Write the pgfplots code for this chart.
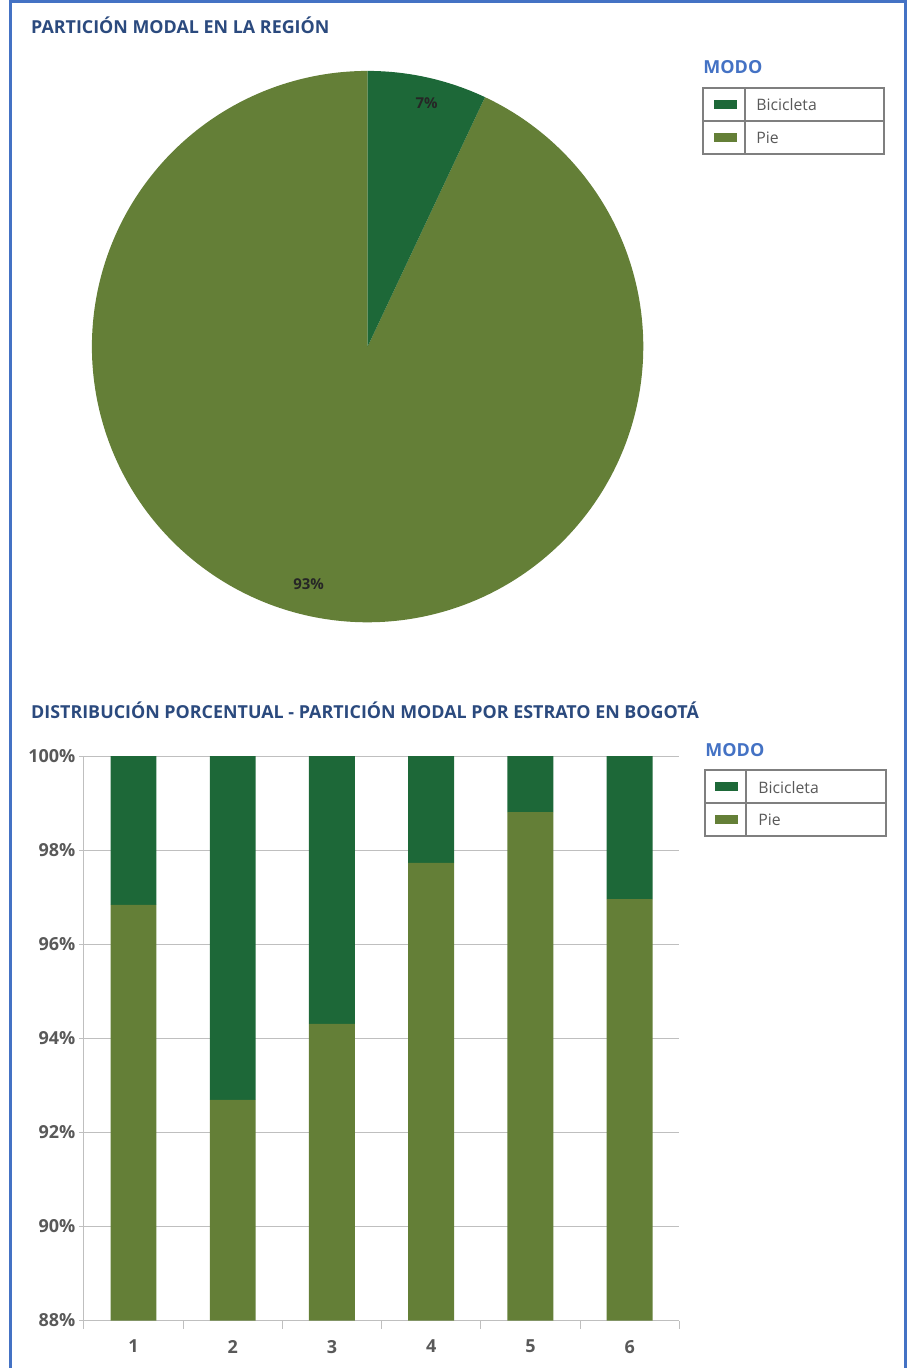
\documentclass[border=0pt]{standalone}
\usepackage{pgfplots}
\usepackage{pgfplotstable}
\pgfplotsset{compat=1.18}
\usepackage{fontspec}
\setmainfont{Open Sans}
\definecolor{bici}{HTML}{1D6838}
\definecolor{pie}{HTML}{647F37}
\definecolor{ttl}{HTML}{2B4A7E}
\definecolor{modo}{HTML}{4472C4}
\definecolor{frm}{HTML}{4472C4}
\definecolor{lgray}{HTML}{7F7F7F}
\definecolor{tgray}{HTML}{595959}
\definecolor{gridc}{HTML}{BFBFBF}

\pgfplotstableread{
x pie bici
1 96.84 3.16
2 92.69 7.31
3 94.31 5.69
4 97.73 2.27
5 98.81 1.19
6 96.96 3.04
}\estrato

\newcommand\pbici{7}
\newcommand\ppie{93}

\begin{document}
\begin{tikzpicture}[x=1pt,y=1pt]
\path (0,0) rectangle (910,1369);
\draw[frm, line width=3pt] (11,0) -- (11,1367.5) -- (906.5,1367.5) -- (906.5,0);

% titles
\node[anchor=base west, font=\bfseries\fontsize{17.9}{18}\selectfont, text=ttl, inner sep=0] at (31,1335) {PARTICIÓN MODAL EN LA REGIÓN};
\node[anchor=base west, font=\bfseries\fontsize{17.9}{18}\selectfont, text=ttl, inner sep=0] at (31,650) {DISTRIBUCIÓN PORCENTUAL - PARTICIÓN MODAL POR ESTRATO EN BOGOTÁ};

% pie
\begin{axis}[at={(92pt,746pt)}, anchor=south west, scale only axis, width=552pt, height=552pt,
  xmin=-1, xmax=1, ymin=-1, ymax=1, hide axis, clip=false]
\addplot[fill=pie, draw=none, domain={-270}:{90-3.6*\pbici}, samples=300, variable=\t] ({cos(\t)},{sin(\t)}) -- (axis cs:0,0) -- cycle;
\addplot[fill=bici, draw=none, domain={90-3.6*\pbici}:90, samples=40, variable=\t] ({cos(\t)},{sin(\t)}) -- (axis cs:0,0) -- cycle;
\node[font=\bfseries\fontsize{15}{15}\selectfont, text=black!85] at (axis cs:0.214,0.884) {\pbici\%};
\node[font=\bfseries\fontsize{15}{15}\selectfont, text=black!85] at (axis cs:-0.214,-0.862) {\ppie\%};
\end{axis}

% legend 1
\node[anchor=base west, font=\bfseries\fontsize{18}{18}\selectfont, text=modo, inner sep=0] at (704,1295) {MODO};
\draw[lgray, line width=1.5pt] (704,1215) rectangle (885,1281);
\draw[lgray, line width=1.5pt] (704,1248) -- (885,1248);
\draw[lgray, line width=1.5pt] (746,1215) -- (746,1281);
\fill[bici] (715,1260) rectangle (738,1269);
\fill[pie] (715,1227) rectangle (738,1236);
\node[anchor=west, font=\fontsize{15.8}{16}\selectfont, text=tgray, inner sep=0] at (757,1264) {Bicicleta};
\node[anchor=west, font=\fontsize{15.8}{16}\selectfont, text=tgray, inner sep=0] at (757,1231) {Pie};

% legend 2
\node[anchor=base west, font=\bfseries\fontsize{18}{18}\selectfont, text=modo, inner sep=0] at (706,612) {MODO};
\draw[lgray, line width=1.5pt] (706,532) rectangle (887,598);
\draw[lgray, line width=1.5pt] (706,565) -- (887,565);
\draw[lgray, line width=1.5pt] (747,532) -- (747,598);
\fill[bici] (716,577) rectangle (739,586);
\fill[pie] (716,544) rectangle (739,553);
\node[anchor=west, font=\fontsize{15.8}{16}\selectfont, text=tgray, inner sep=0] at (759,581) {Bicicleta};
\node[anchor=west, font=\fontsize{15.8}{16}\selectfont, text=tgray, inner sep=0] at (759,548) {Pie};

% bars
\begin{axis}[at={(84pt,47pt)}, anchor=south west, scale only axis, width=596pt, height=565pt,
  ybar stacked, bar width=46pt, xmin=0.5, xmax=6.5, ymin=88, ymax=100,
  axis x line*=bottom, axis y line*=left,
  axis line style={draw=gridc, line width=1pt},
  xtick={1,...,6}, minor xtick={0.5,1.5,...,6.5},
  x tick style={draw=none},
  minor x tick style={draw=gridc, line width=1pt},
  ytick={88,90,...,100}, y tick style={draw=gridc, line width=1pt},
  tick align=outside, major tick length=5pt, minor tick length=8pt,
  ymajorgrids, grid style={draw=gridc, line width=1pt},
  yticklabel={\pgfmathprintnumber{\tick}\%},
  /pgf/number format/assume math mode=true,
  yticklabel style={font=\bfseries\fontsize{18}{18}\selectfont, text=tgray},
  xticklabel style={font=\bfseries\fontsize{18}{18}\selectfont, text=tgray, yshift=-11pt},
]
\addplot[fill=pie, draw=none] table[x=x, y=pie]{\estrato};
\addplot[fill=bici, draw=none] table[x=x, y=bici]{\estrato};
\end{axis}
\end{tikzpicture}
\end{document}
